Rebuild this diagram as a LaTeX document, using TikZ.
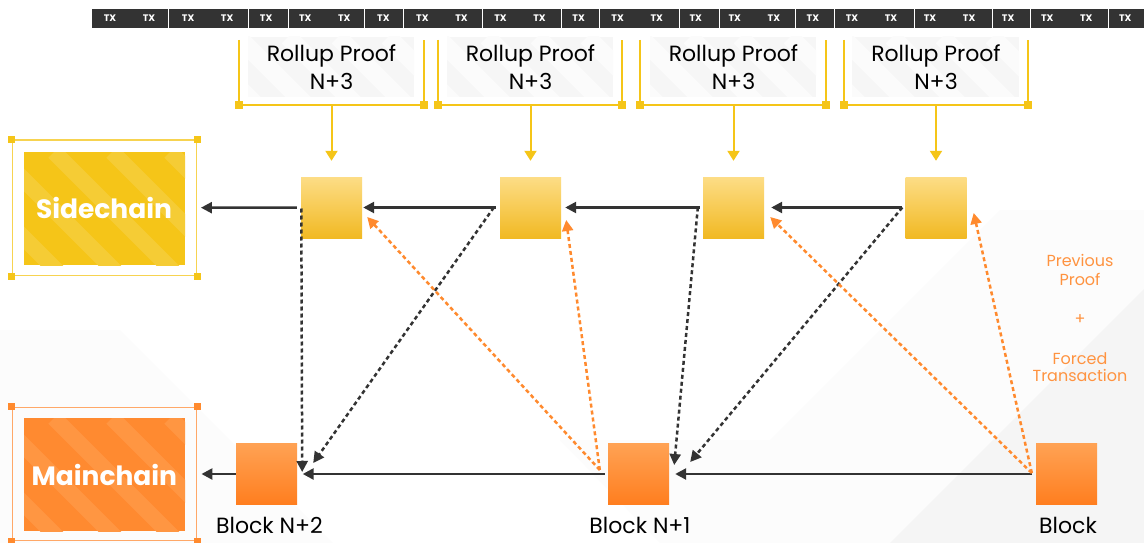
\documentclass[tikz,border=0pt]{standalone}
\usepackage{fontspec}
\setmainfont{Poppins}
\usetikzlibrary{arrows.meta}
\definecolor{dark}{HTML}{333333}
\definecolor{ylw}{HTML}{F5C518}
\definecolor{ylwstripe}{HTML}{F5CC35}
\definecolor{ylwframe}{HTML}{F7D350}
\definecolor{ytop}{HTML}{FDDD86}
\definecolor{ybot}{HTML}{F1B923}
\definecolor{org}{HTML}{FF8A2E}
\definecolor{orgfill}{HTML}{FF8A30}
\definecolor{orgstripe}{HTML}{FF9642}
\definecolor{orgframe}{HTML}{FFA868}
\definecolor{otop}{HTML}{FFA254}
\definecolor{obot}{HTML}{FF7E1F}
\definecolor{ptxt}{HTML}{FF9340}
\definecolor{bgA}{HTML}{F5F5F5}
\definecolor{bgB}{HTML}{FCFCFC}
\definecolor{boxbg}{HTML}{F6F6F6}
\definecolor{boxstripe}{HTML}{FBFBFB}
\begin{document}
\begin{tikzpicture}[x=1pt,y=-1pt,
  ysq/.style={minimum width=61pt,minimum height=61pt,inner sep=0pt,top color=ytop,bottom color=ybot,draw=none},
  osq/.style={minimum width=61pt,minimum height=61pt,inner sep=0pt,top color=otop,bottom color=obot,draw=none},
  txtag/.style={text=white,font=\bfseries\fontsize{9.5}{10}\selectfont,inner sep=0pt},
  rtext/.style={anchor=base,font=\fontsize{22}{24}\selectfont,text=black,inner sep=0pt},
  btext/.style={anchor=base,font=\fontsize{22}{24}\selectfont,text=black,inner sep=0pt},
  ptext/.style={anchor=base,font=\fontsize{16}{18}\selectfont,text=ptxt,inner sep=0pt},
  chaintext/.style={anchor=base,font=\bfseries\fontsize{26.5}{30}\selectfont,text=white,inner sep=0pt},
  brk/.style={draw=ylw,line width=1.6pt},
  sarr/.style={draw=dark,line width=2.5pt,-{Triangle[length=11pt,width=11pt]}},
  darr/.style={draw=dark,line width=2.5pt,dash pattern=on 4pt off 3pt,-{Triangle[length=11pt,width=11pt]}},
  oarr/.style={draw=org,line width=2.5pt,dash pattern=on 4pt off 3pt,-{Triangle[length=11pt,width=11pt]}},
  yarr/.style={draw=ylw,line width=2pt,-{Triangle[length=10pt,width=12pt]}}
]
\useasboundingbox (0,0) rectangle (1144,543);
\fill[white] (0,0) rectangle (1144,543);
% faint background shapes
\fill[bgB] (560,440) -- (770,440) -- (1000,210) -- (1144,210) -- (1144,543) -- (660,543) -- cycle;
\fill[bgB] (0,330) -- (120,330) -- (333,543) -- (0,543) -- cycle;
\fill[bgA] (1144,289) -- (1144,543) -- (890,543) -- cycle;

% TX bar
\fill[dark] (92,9) rectangle (1144,28);
\foreach \s in {168,248,288,364,403,482,561,599,679,719,795,834,914,992,1030,1108}
  \draw[white,line width=1pt] (\s,9) -- (\s,28);
\foreach \i in {0,...,26}
  \node[txtag] (tx\i) at ({110+39.05*\i},18.5) {TX};

% rollup proof label boxes
\foreach \L/\R in {248/414,447/613,650/816,852/1019}{
  \begin{scope}
    \clip (\L,37) rectangle (\R,97);
    \fill[boxbg] (\L,37) rectangle (\R,97);
    \foreach \k in {-60,-10,40,90,140,190}
      \draw[boxstripe,line width=18pt] ({\L+\k},37) -- ++(70,70);
  \end{scope}
}

% brackets
\foreach \L/\R/\C/\n in {239/424/331.5/1,438/622/530.5/2,640/826/733.5/3,844/1028/936/4}{
  \draw[brk] (\L,40) -- (\L,105) -- (\R,105) -- (\R,40);
  \fill[ylw] ({\L-4},101) rectangle ({\L+4},109);
  \fill[ylw] ({\R-4},101) rectangle ({\R+4},109);
  \coordinate (br\n) at (\C,105);
  \node[rtext] (rp\n) at (\C,61.7) {Rollup Proof};
  \node[rtext] (rn\n) at (\C,90) {N+3};
}

% proof squares
\node[ysq] (p1) at (331.5,207.5) {};
\node[ysq] (p2) at (530.5,207.5) {};
\node[ysq] (p3) at (733.5,207.5) {};
\node[ysq] (p4) at (936,207.5) {};

% block squares
\node[osq] (b2) at (266.5,474) {};
\node[osq] (b1) at (638.5,474) {};
\node[osq] (b0) at (1066.5,474) {};
\node[btext] (lb2) at (269.5,533) {Block N+2};
\node[btext] (lb1) at (640,533) {Block N+1};
\node[btext] (lb0) at (1068,533) {Block};

% Sidechain
\node[draw=ylwframe,line width=1.5pt,minimum width=184.4pt,minimum height=135.3pt,inner sep=0pt] (sideF) at (104.5,207.7) {};
\foreach \a in {north west,north east,south west,south east}
  \fill[ylw] ([xshift=-3.5pt,yshift=-3.5pt]sideF.\a) rectangle ++(7,-7);
\begin{scope}
  \clip (24,152) rectangle (185,265);
  \fill[ylw] (24,152) rectangle (185,265);
  \foreach \k in {-120,-62,-4,54,112,170}
    \draw[ylwstripe,line width=16pt] (\k,152) -- ++(120,120);
\end{scope}
\node[chaintext] (side) at (104,218.3) {Sidechain};

% Mainchain
\node[draw=orgframe,line width=1.5pt,minimum width=184.4pt,minimum height=133.4pt,inner sep=0pt] (mainF) at (104.5,474) {};
\foreach \a in {north west,north east,south west,south east}
  \fill[org] ([xshift=-3.5pt,yshift=-3.5pt]mainF.\a) rectangle ++(7,-7);
\begin{scope}
  \clip (24,418) rectangle (185,531);
  \fill[orgfill] (24,418) rectangle (185,531);
  \foreach \k in {-120,-62,-4,54,112,170}
    \draw[orgstripe,line width=16pt] (\k,418) -- ++(120,120);
\end{scope}
\node[chaintext] (main) at (104.3,485.7) {Mainchain};

% bracket stems
\foreach \n in {1,2,3,4}
  \draw[yarr] (br\n) -- ([yshift=16pt]p\n.north);

% solid arrows top
\draw[sarr] ([xshift=-4pt]p1.west) -- ([xshift=3.5pt]sideF.east);
\draw[sarr] ([xshift=-4pt]p2.west) -- ([xshift=1pt]p1.east);
\draw[sarr] ([xshift=-3pt]p3.west) -- ([xshift=4pt]p2.east);
\draw[sarr] ([xshift=-3pt]p4.west) -- ([xshift=7pt]p3.east);
% solid arrows bottom
\draw[sarr] (b2.west) -- ([xshift=4pt]mainF.east);
\draw[sarr] ([xshift=-3pt]b1.west) -- ([xshift=5.5pt]b2.east);
\draw[sarr] ([xshift=-4pt]b0.west) -- ([xshift=6pt]b1.east);

% dark dashed
\draw[darr] ([xshift=0.5pt,yshift=-1pt]p1.west) -- ([xshift=5pt,yshift=2pt]b2.east);
\draw[darr] ([xshift=-6pt]p2.west) -- ([xshift=16pt,yshift=11pt]b2.east);
\draw[darr] ([xshift=-5pt]p3.west) -- ([xshift=5pt,yshift=9pt]b1.east);
\draw[darr] ([xshift=-3pt]p4.west) -- ([xshift=21pt,yshift=12pt]b1.east);

% orange dashed
\draw[oarr] ([xshift=-8pt,yshift=4pt]b1.west) -- ([xshift=5pt,yshift=-9.5pt]p1.east);
\draw[oarr] ([xshift=-8pt,yshift=4pt]b1.west) -- ([xshift=5pt,yshift=-12.5pt]p2.east);
\draw[oarr] ([xshift=-4pt,yshift=1pt]b0.west) -- ([xshift=6pt,yshift=-9.5pt]p3.east);
\draw[oarr] ([xshift=-4pt,yshift=1pt]b0.west) -- ([xshift=7pt,yshift=-5.5pt]p4.east);

% orange text
\node[ptext] (t1) at (1080,266.7) {Previous};
\node[ptext] (t2) at (1080,285) {Proof};
\node[ptext] (t3) at (1080,324) {+};
\node[ptext] (t4) at (1080,364) {Forced};
\node[ptext] (t5) at (1080,381.7) {Transaction};
\end{tikzpicture}
\end{document}
